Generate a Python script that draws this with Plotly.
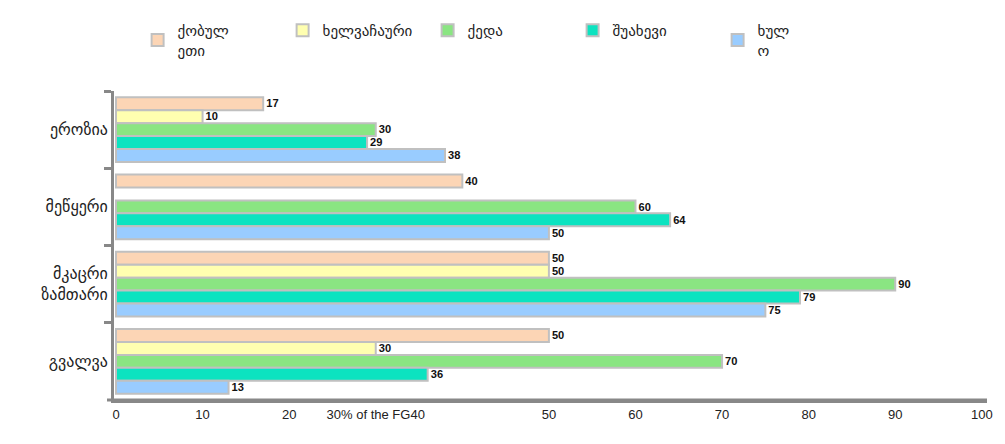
import plotly.graph_objects as go

# categories (top to bottom)
regions = ["ეროზია", "მეწყერი", "მკაცრი<br>ზამთარი", "გვალვა"]

# series values per category
kobuleti = [17, 40, 50, 50]
khelvachauri = [10, None, 50, 30]
keda = [30, 60, 90, 70]
shuakhevi = [29, 64, 79, 36]
khulo = [38, 50, 75, 13]

series_names = ["ქობულ<br>ეთი", "ხელვაჩაური", "ქედა", "შუახევი", "ხულ<br>ო"]
series_colors = ["#FCD5B5", "#FFFFB0", "#8AE582", "#0CE3C0", "#99CCFF"]

x_tickvals = [0, 10, 20, 30, 50, 60, 70, 80, 90, 100]
x_ticktext = ["0", "10", "20", "30% of the FG40", "50", "60", "70", "80", "90", "100"]

fig = go.Figure()
for name, vals, col in zip(series_names,
                           [kobuleti, khelvachauri, keda, shuakhevi, khulo],
                           series_colors):
    fig.add_trace(go.Bar(
        y=regions, x=vals, name=name, orientation="h",
        marker=dict(color=col, line=dict(color="#C0C0C0", width=2)),
        text=[v if v is not None else "" for v in vals],
        textposition="outside",
        textfont=dict(family="Liberation Sans", size=12, color="#111111"),
        texttemplate="<b>%{text}</b>",
        cliponaxis=False,
    ))

# bottom axis line, running slightly past the y axis like in the original
fig.add_shape(type="line", xref="paper", yref="paper",
              x0=-0.008, x1=1.0, y0=0, y1=0,
              line=dict(color="#888888", width=3), layer="above")

# page body adds an 8px offset, so the figure is a little smaller than the window
fig.update_layout(
    width=997, height=436,
    barmode="group", bargap=0.16, bargroupgap=0,
    plot_bgcolor="white", paper_bgcolor="white",
    margin=dict(l=106, r=18, t=83, b=44, autoexpand=False),
    font=dict(family="DejaVu Sans", size=15, color="#222222"),
    legend=dict(
        orientation="h", xref="container", yref="container",
        x=0.13, y=0.986, xanchor="left", yanchor="top",
        entrywidth=100, traceorder="normal",
        font=dict(family="DejaVu Sans", size=15, color="#222222"),
    ),
    xaxis=dict(
        range=[-0.23, 100.6], tickvals=x_tickvals, ticktext=x_ticktext,
        showgrid=True, gridcolor="white", gridwidth=1, layer="above traces",
        zeroline=False, showline=True, linecolor="#888888", linewidth=3,
        tickfont=dict(family="Liberation Sans", size=13, color="#222222"),
        ticks="", ticklen=0, automargin=False,
    ),
    yaxis=dict(
        autorange="reversed", showline=True, linecolor="#888888", linewidth=3,
        ticks="outside", tickson="boundaries", ticklen=7, tickcolor="#888888",
        tickwidth=3, showgrid=False, automargin=False,
        tickfont=dict(family="DejaVu Sans", size=16, color="#222222"),
    ),
)

fig.write_html("out.html")
